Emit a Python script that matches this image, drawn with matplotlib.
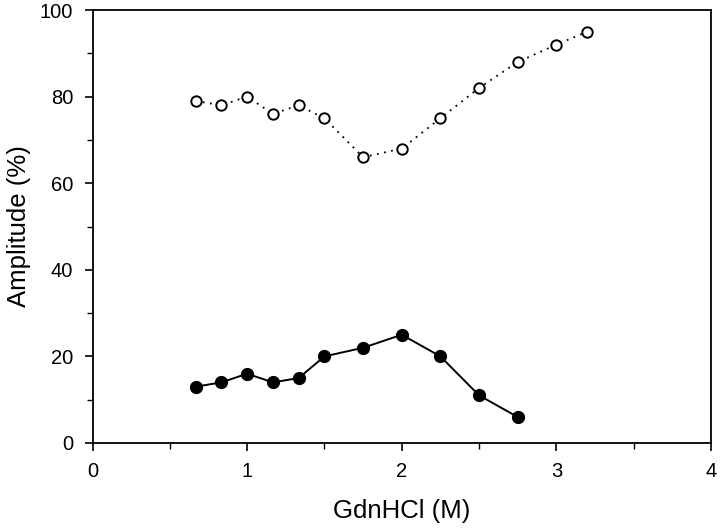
import matplotlib
matplotlib.use("Agg")
import matplotlib.pyplot as plt
from matplotlib.ticker import MultipleLocator

plt.rcParams['font.family'] = ['Liberation Sans', 'DejaVu Sans']

# Open circles (dotted line)
open_x = [0.667, 0.833, 1.0, 1.167, 1.333, 1.5, 1.75, 2.0, 2.25, 2.5, 2.75, 3.0, 3.2]
open_y = [79, 78, 80, 76, 78, 75, 66, 68, 75, 82, 88, 92, 95]

# Filled circles (solid line)
filled_x = [0.667, 0.833, 1.0, 1.167, 1.333, 1.5, 1.75, 2.0, 2.25, 2.5, 2.75]
filled_y = [13, 14, 16, 14, 15, 20, 22, 25, 20, 11, 6]

fig = plt.figure(figsize=(7.2, 5.28), dpi=100)
ax = fig.add_axes([0.1285, 0.161, 0.859, 0.820])

ax.plot(open_x, open_y, linestyle=(0, (1, 3)), color='black', linewidth=1.3,
        marker='o', markersize=7.5, markerfacecolor='white',
        markeredgecolor='black', markeredgewidth=1.4)
ax.plot(filled_x, filled_y, linestyle='-', color='black', linewidth=1.4,
        marker='o', markersize=8.5, markerfacecolor='black',
        markeredgecolor='black')

ax.set_xlim(0, 4)
ax.set_ylim(0, 100)
ax.xaxis.set_major_locator(MultipleLocator(1))
ax.xaxis.set_minor_locator(MultipleLocator(0.5))
ax.yaxis.set_major_locator(MultipleLocator(20))
ax.yaxis.set_minor_locator(MultipleLocator(10))
ax.tick_params(which='major', direction='out', length=6, width=1.2, labelsize=14.5, pad=8)
ax.tick_params(which='minor', direction='out', length=4, width=1.0)

for s in ax.spines.values():
    s.set_linewidth(1.3)

ax.set_xlabel('GdnHCl (M)', fontsize=18.5, labelpad=13)
ax.set_ylabel('Amplitude (%)', fontsize=18.5, labelpad=6)

fig.savefig('out.png', dpi=100)
